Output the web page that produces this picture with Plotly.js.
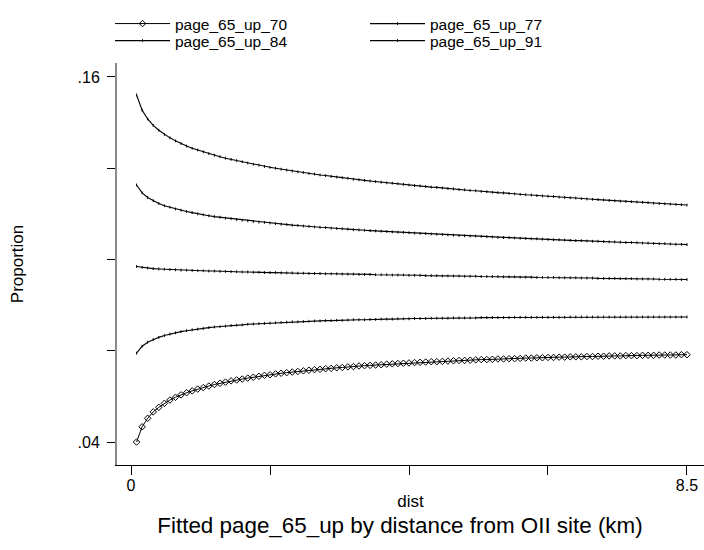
<!DOCTYPE html>
<html>
<head>
<meta charset="utf-8">
<script src="https://cdn.plot.ly/plotly-3.0.1.min.js"></script>
<style>html,body{margin:0;padding:0;background:#fff;}#chart{width:704px;height:550px;}</style>
</head>
<body>
<div id="chart"></div>
<script>
// distance from OII site (km)
var dist = [0.085,0.17,0.255,0.34,0.425,0.51,0.595,0.68,0.765,0.85,0.935,1.02,1.105,1.19,1.275,1.36,1.445,1.53,1.615,1.7,
1.785,1.87,1.955,2.04,2.125,2.21,2.295,2.38,2.465,2.55,2.635,2.72,2.805,2.89,2.975,3.06,3.145,3.23,3.315,3.4,
3.485,3.57,3.655,3.74,3.825,3.91,3.995,4.08,4.165,4.25,4.335,4.42,4.505,4.59,4.675,4.76,4.845,4.93,5.015,5.1,
5.185,5.27,5.355,5.44,5.525,5.61,5.695,5.78,5.865,5.95,6.035,6.12,6.205,6.29,6.375,6.46,6.545,6.63,6.715,6.8,
6.885,6.97,7.055,7.14,7.225,7.31,7.395,7.48,7.565,7.65,7.735,7.82,7.905,7.99,8.075,8.16,8.245,8.33,8.415,8.5];

var page_65_up_70 = [0.0400,0.0450,0.0478,0.0499,0.0514,0.0527,0.0538,0.0547,0.0555,0.0562,
0.0568,0.0574,0.0579,0.0584,0.0589,0.0593,0.0597,0.0601,0.0604,0.0607,
0.0610,0.0613,0.0616,0.0619,0.0621,0.0624,0.0626,0.0628,0.0630,0.0632,
0.0634,0.0636,0.0638,0.0639,0.0641,0.0642,0.0644,0.0645,0.0647,0.0648,
0.0650,0.0651,0.0652,0.0653,0.0654,0.0656,0.0657,0.0658,0.0659,0.0660,
0.0661,0.0662,0.0663,0.0664,0.0664,0.0665,0.0666,0.0667,0.0668,0.0668,
0.0669,0.0670,0.0671,0.0671,0.0672,0.0673,0.0673,0.0674,0.0674,0.0675,
0.0676,0.0676,0.0677,0.0677,0.0678,0.0678,0.0679,0.0679,0.0680,0.0680,
0.0680,0.0681,0.0681,0.0682,0.0682,0.0683,0.0683,0.0683,0.0684,0.0684,
0.0684,0.0685,0.0685,0.0685,0.0686,0.0686,0.0686,0.0686,0.0687,0.0687];

var page_65_up_77 = [0.0692,0.0715,0.0728,0.0737,0.0744,0.0750,0.0755,0.0759,0.0763,0.0766,
0.0769,0.0771,0.0773,0.0776,0.0778,0.0779,0.0781,0.0783,0.0784,0.0785,
0.0787,0.0788,0.0789,0.0790,0.0791,0.0792,0.0793,0.0794,0.0795,0.0795,
0.0796,0.0797,0.0798,0.0798,0.0799,0.0799,0.0800,0.0800,0.0801,0.0802,
0.0802,0.0802,0.0803,0.0803,0.0804,0.0804,0.0804,0.0805,0.0805,0.0805,
0.0806,0.0806,0.0806,0.0807,0.0807,0.0807,0.0807,0.0808,0.0808,0.0808,
0.0808,0.0808,0.0809,0.0809,0.0809,0.0809,0.0809,0.0809,0.0810,0.0810,
0.0810,0.0810,0.0810,0.0810,0.0810,0.0810,0.0810,0.0810,0.0811,0.0811,
0.0811,0.0811,0.0811,0.0811,0.0811,0.0811,0.0811,0.0811,0.0811,0.0811,
0.0811,0.0811,0.0811,0.0811,0.0811,0.0811,0.0811,0.0811,0.0811,0.0811];

var page_65_up_84 = [0.0977,0.0974,0.0972,0.0970,0.0969,0.0968,0.0967,0.0966,0.0965,0.0965,
0.0964,0.0963,0.0963,0.0962,0.0962,0.0961,0.0961,0.0960,0.0960,0.0959,
0.0959,0.0958,0.0958,0.0957,0.0957,0.0957,0.0956,0.0956,0.0956,0.0955,
0.0955,0.0954,0.0954,0.0954,0.0953,0.0953,0.0953,0.0952,0.0952,0.0952,
0.0951,0.0951,0.0951,0.0950,0.0950,0.0950,0.0949,0.0949,0.0949,0.0948,
0.0948,0.0948,0.0947,0.0947,0.0947,0.0946,0.0946,0.0946,0.0946,0.0945,
0.0945,0.0945,0.0944,0.0944,0.0944,0.0944,0.0943,0.0943,0.0943,0.0942,
0.0942,0.0942,0.0941,0.0941,0.0941,0.0941,0.0940,0.0940,0.0940,0.0940,
0.0939,0.0939,0.0939,0.0938,0.0938,0.0938,0.0938,0.0937,0.0937,0.0937,
0.0936,0.0936,0.0936,0.0936,0.0935,0.0935,0.0935,0.0935,0.0934,0.0934];

var page_65_up_91 = [0.1245,0.1219,0.1204,0.1193,0.1184,0.1177,0.1172,0.1166,0.1162,0.1158,
0.1154,0.1150,0.1147,0.1144,0.1141,0.1139,0.1136,0.1134,0.1131,0.1129,
0.1127,0.1125,0.1123,0.1122,0.1120,0.1118,0.1116,0.1115,0.1113,0.1112,
0.1110,0.1109,0.1107,0.1106,0.1105,0.1103,0.1102,0.1101,0.1100,0.1098,
0.1097,0.1096,0.1095,0.1094,0.1093,0.1092,0.1091,0.1090,0.1089,0.1088,
0.1087,0.1086,0.1085,0.1084,0.1083,0.1082,0.1081,0.1080,0.1079,0.1078,
0.1077,0.1077,0.1076,0.1075,0.1074,0.1073,0.1072,0.1072,0.1071,0.1070,
0.1069,0.1068,0.1068,0.1067,0.1066,0.1065,0.1065,0.1064,0.1063,0.1062,
0.1062,0.1061,0.1060,0.1060,0.1059,0.1058,0.1058,0.1057,0.1056,0.1056,
0.1055,0.1054,0.1054,0.1053,0.1052,0.1052,0.1051,0.1050,0.1050,0.1049];

var page_65_up_98 = [0.1541,0.1491,0.1462,0.1441,0.1425,0.1411,0.1400,0.1390,0.1381,0.1373,
0.1366,0.1360,0.1354,0.1348,0.1343,0.1338,0.1333,0.1329,0.1325,0.1321,
0.1317,0.1313,0.1310,0.1306,0.1303,0.1300,0.1297,0.1294,0.1291,0.1288,
0.1286,0.1283,0.1281,0.1278,0.1276,0.1273,0.1271,0.1269,0.1267,0.1264,
0.1262,0.1260,0.1258,0.1256,0.1254,0.1252,0.1251,0.1249,0.1247,0.1245,
0.1243,0.1242,0.1240,0.1238,0.1237,0.1235,0.1233,0.1232,0.1230,0.1229,
0.1227,0.1226,0.1224,0.1223,0.1221,0.1220,0.1219,0.1217,0.1216,0.1214,
0.1213,0.1212,0.1210,0.1209,0.1208,0.1207,0.1205,0.1204,0.1203,0.1202,
0.1200,0.1199,0.1198,0.1197,0.1196,0.1194,0.1193,0.1192,0.1191,0.1190,
0.1189,0.1188,0.1187,0.1185,0.1184,0.1183,0.1182,0.1181,0.1180,0.1179];

var yTickVals = [0.04, 0.07, 0.10, 0.13, 0.16];
var yTickText = ['.04', '', '', '', '.16'];
var xTickVals = [0, 2.125, 4.25, 6.375, 8.5];
var xTickText = ['0', '', '', '', '8.5'];

var FONT = 'Liberation Sans, Arial, sans-serif';
var small = {symbol: 'line-ns-open', size: 2, color: '#000', line: {width: 1, color: '#333'}};

var traces = [
  {x: dist, y: page_65_up_70, name: 'page_65_up_70', mode: 'lines+markers', legend: 'legend',
   line: {color: '#000', width: 1},
   marker: {symbol: 'diamond-open', size: 5, color: '#000', line: {width: 1, color: '#000'}}},
  {x: dist, y: page_65_up_77, name: 'page_65_up_77', mode: 'lines+markers', legend: 'legend',
   line: {color: '#000', width: 1.1}, marker: small},
  {x: dist, y: page_65_up_84, name: 'page_65_up_84', mode: 'lines+markers', legend: 'legend2',
   line: {color: '#000', width: 1.1}, marker: small},
  {x: dist, y: page_65_up_91, name: 'page_65_up_91', mode: 'lines+markers', legend: 'legend2',
   line: {color: '#000', width: 1.1}, marker: small},
  {x: dist, y: page_65_up_98, name: 'page_65_up_98', mode: 'lines+markers', showlegend: false,
   line: {color: '#000', width: 1.1}, marker: small}
];

function legendRow(topPx) {
  return {orientation: 'h', xref: 'container', yref: 'container',
          x: 110/704, xanchor: 'left', y: 1 - topPx/550, yanchor: 'top',
          entrywidth: 185, entrywidthmode: 'pixels', itemwidth: 55,
          font: {family: FONT, size: 15.5, color: '#000'},
          bgcolor: 'rgba(0,0,0,0)', borderwidth: 0};
}

var layout = {
  width: 704, height: 550,
  paper_bgcolor: '#fff', plot_bgcolor: '#fff',
  font: {family: FONT, color: '#000', size: 16},
  margin: {l: 117, r: 0, t: 63, b: 85, pad: 0},
  title: {text: 'Fitted page_65_up by distance from OII site (km)',
          font: {family: FONT, size: 22.4, color: '#000'},
          xref: 'container', yref: 'container', x: 400/704, xanchor: 'center',
          y: 1 - 525/550, yanchor: 'middle'},
  showlegend: true,
  legend: legendRow(7),
  legend2: legendRow(24),
  xaxis: {range: [-0.214, 8.76], showgrid: false, zeroline: false,
          showline: true, linecolor: '#000', linewidth: 1,
          tickmode: 'array', tickvals: xTickVals, ticktext: xTickText,
          ticks: 'outside', ticklen: 9, tickwidth: 1, tickcolor: '#000',
          ticklabelstandoff: -3,
          tickfont: {family: FONT, size: 16, color: '#000'},
          title: {text: 'dist', font: {family: FONT, size: 17, color: '#000'}, standoff: 1}},
  yaxis: {range: [0.03244, 0.1646], showgrid: false, zeroline: false,
          showline: true, linecolor: '#8a8a8a', linewidth: 2,
          tickmode: 'array', tickvals: yTickVals, ticktext: yTickText,
          ticks: 'outside', ticklen: 8, tickwidth: 1, tickcolor: '#000',
          ticklabelstandoff: 4,
          tickfont: {family: FONT, size: 16, color: '#000'},
          title: {text: 'Proportion', font: {family: FONT, size: 17, color: '#000'}, standoff: 50}}
};

Plotly.newPlot('chart', traces, layout, {displayModeBar: false, staticPlot: true});
</script>
</body>
</html>
